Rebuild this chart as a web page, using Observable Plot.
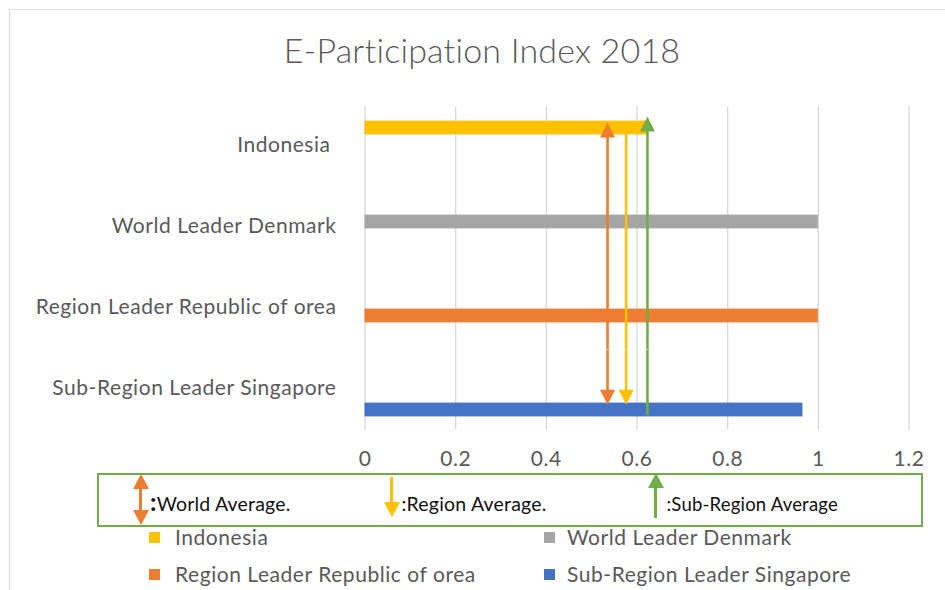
<!DOCTYPE html>
<html>
<head>
<meta charset="utf-8">
<script src="https://cdn.jsdelivr.net/npm/d3@7"></script>
<script src="https://cdn.jsdelivr.net/npm/@observablehq/plot@0.6"></script>
<style>
  html, body { margin: 0; padding: 0; background: #fff; width: 945px; height: 590px; overflow: hidden; position: relative; font-family: Lato, "Open Sans", sans-serif; }
  #border { position: absolute; left: 9px; top: 9px; width: 1000px; height: 700px; border: 1px solid #d9d9d9; }
  #title { position: absolute; left: 0; width: 964px; top: 28px; text-align: center; font-size: 34px; letter-spacing: 0.2px; font-weight: 300; color: #595959; line-height: 44px; }
  #chart { position: absolute; left: 0; top: 0; }
  #box { position: absolute; left: 97px; top: 473px; width: 826px; height: 54px; box-sizing: border-box; border: 2px solid #70ad47; }
  .note { position: absolute; font-size: 19.5px; letter-spacing: 0.2px; color: #111; white-space: nowrap; line-height: 22px; }
  .note span { line-height: 0; }
  .shaft { position: absolute; width: 3px; }
  .head-up, .head-down { position: absolute; width: 0; height: 0; border-left: 8px solid transparent; border-right: 8px solid transparent; }
  .leg-sw { position: absolute; width: 11px; height: 11px; }
  .leg-tx { position: absolute; font-size: 21px; letter-spacing: 0.55px; color: #595959; white-space: nowrap; line-height: 24px; }
</style>
</head>
<body>
<div id="border"></div>
<div id="title">E-Participation Index 2018</div>
<div id="chart"></div>
<div id="box"></div>
<div id="notes"></div>
<div id="legend"></div>
<script>
// ---------- data ----------
const categories = ["Indonesia", "World Leader Denmark", "Region Leader Republic of orea", "Sub-Region Leader Singapore"];
const categoryLabels = ["Indonesia\u00a0", "World Leader Denmark", "Region Leader Republic of orea", "Sub-Region Leader Singapore"];
const seriesNames = ["Indonesia", "World Leader Denmark", "Region Leader Republic of orea", "Sub-Region Leader Singapore"];
const seriesValues = [0.623, 1.0, 1.0, 0.966];
const averageNames = ["World Average", "Region Average", "Sub-Region Average"];
const averageLabels = ["World Average.", ":Region Average.", ":Sub-Region Average"];
const averageValues = [0.535, 0.576, 0.623];
const xTicks = [0, 0.2, 0.4, 0.6, 0.8, 1, 1.2];
const xTickLabels = ["0", "0.2", "0.4", "0.6", "0.8", "1", "1.2"];

// ---------- styles ----------
const seriesColors = ["#ffc000", "#a5a5a5", "#ed7d31", "#4472c4"];
const averageColors = ["#ed7d31", "#ffc000", "#70ad47"];
const arrowHasUp = [true, false, true];
const arrowHasDown = [true, true, false];
const arrowUpDy = [-5.6, 0, -11.6];
const arrowBottomInset = [16, 16, 1];

const bars = categories.map((c, i) => ({category: c, series: seriesNames[i], value: seriesValues[i]}));
const avgs = averageNames.map((n, i) => ({name: n, value: averageValues[i], i}));

// arrow-head symbols with the tip at the anchor point
const tipUp = {draw(ctx, size) { const h = 3 * Math.sqrt(size / Math.PI), w = h / 2; ctx.moveTo(0, 0); ctx.lineTo(w, h); ctx.lineTo(-w, h); ctx.closePath(); }};
const tipDown = {draw(ctx, size) { const h = 3 * Math.sqrt(size / Math.PI), w = h / 2; ctx.moveTo(0, 0); ctx.lineTo(w, -h); ctx.lineTo(-w, -h); ctx.closePath(); }};

const firstCat = categories[0], lastCat = categories[categories.length - 1];
const firstSer = seriesNames[0], lastSer = seriesNames[seriesNames.length - 1];
const midCats = categories.slice(1, -1);

const arrowMarks = [];
avgs.forEach(a => {
  const col = averageColors[a.i];
  arrowMarks.push(
    Plot.ruleX([a], {x: "value", fy: () => firstCat, y1: () => firstSer, y2: () => lastSer, insetTop: 8, insetBottom: -14.5, stroke: col, strokeWidth: 2.6}),
    Plot.ruleX(midCats.map(c => ({...a, category: c})), {x: "value", fy: "category", stroke: col, strokeWidth: 2.6}),
    Plot.ruleX([a], {x: "value", fy: () => lastCat, y1: () => firstSer, y2: () => lastSer, insetTop: -14.5, insetBottom: arrowBottomInset[a.i], stroke: col, strokeWidth: 2.6})
  );
  if (arrowHasUp[a.i]) arrowMarks.push(Plot.dot([a], {x: "value", y: () => firstSer, fy: () => firstCat, symbol: tipUp, r: 5, fill: col, stroke: "none", dy: arrowUpDy[a.i]}));
  if (arrowHasDown[a.i]) arrowMarks.push(Plot.dot([a], {x: "value", y: () => lastSer, fy: () => lastCat, symbol: tipDown, r: 5, fill: col, stroke: "none", dy: -5.3}));
});

const chart = Plot.plot({
  width: 945,
  height: 475,
  marginLeft: 364.5,
  marginRight: 36.5,
  marginTop: 105,
  marginBottom: 45,
  style: {fontFamily: "Lato, 'Open Sans', sans-serif", fontSize: "21px", letterSpacing: "0.55px", color: "#595959", background: "transparent", overflow: "visible"},
  x: {domain: [0, 1.2]},
  y: {domain: seriesNames, paddingInner: 0, paddingOuter: 1.05, axis: null},
  fy: {domain: categories, padding: 0, label: null},
  color: {domain: seriesNames, range: seriesColors},
  marks: [
    Plot.gridX(xTicks, {stroke: "#d9d9d9", strokeOpacity: 1, strokeWidth: 1.4}),
    Plot.barX(bars, {x: "value", y: "series", fy: "category", fill: "series", insetTop: -0.4, insetBottom: -0.4}),
    ...arrowMarks,
    Plot.axisX(xTicks, {tickSize: 0, tickPadding: 21, label: null, tickFormat: d => xTickLabels[xTicks.indexOf(d)]}),
    Plot.axisFy({anchor: "left", tickSize: 0, tickPadding: 28.5, dy: -1.5, label: null, tickFormat: d => categoryLabels[categories.indexOf(d)]})
  ]
});
document.getElementById("chart").appendChild(chart);

// ---------- annotation box (arrow key) ----------
const notes = document.getElementById("notes");
function el(cls, css, html) { const d = document.createElement("div"); d.className = cls; Object.assign(d.style, css); if (html) d.innerHTML = html; notes.appendChild(d); return d; }
// world average: double arrow
el("head-up", {left: (140.7 - 8) + "px", top: "474px", borderBottom: "15px solid " + averageColors[0]});
el("shaft", {left: (140.7 - 1.5) + "px", top: "488px", height: "24px", background: averageColors[0]});
el("head-down", {left: (140.7 - 8) + "px", top: "510px", borderTop: "15px solid " + averageColors[0]});
el("note", {left: "150px", top: "493px"}, '<span style="font-size:25px;font-weight:700">:</span>' + averageLabels[0]);
// region average: down arrow
el("shaft", {left: (391.7 - 1.5) + "px", top: "477px", height: "26px", background: averageColors[1]});
el("head-down", {left: (391.7 - 8) + "px", top: "502px", borderTop: "15px solid " + averageColors[1]});
el("note", {left: "401.5px", top: "493px"}, averageLabels[1]);
// sub-region average: up arrow
el("head-up", {left: (655.7 - 8) + "px", top: "473px", borderBottom: "15px solid " + averageColors[2]});
el("shaft", {left: (655.7 - 1.5) + "px", top: "487px", height: "31px", background: averageColors[2]});
el("note", {left: "666.5px", top: "493px", fontSize: "18.5px"}, averageLabels[2]);

// ---------- legend ----------
const legend = document.getElementById("legend");
const legPos = [[149, 537], [544, 537], [149, 574], [544, 574]];
const legText = [175, 567, 175, 567];
seriesNames.forEach((s, i) => {
  const sw = document.createElement("div"); sw.className = "leg-sw";
  Object.assign(sw.style, {left: legPos[i][0] + "px", top: (legPos[i][1] - 5.5) + "px", background: seriesColors[i]});
  legend.appendChild(sw);
  const tx = document.createElement("div"); tx.className = "leg-tx"; tx.textContent = s;
  Object.assign(tx.style, {left: legText[i] + "px", top: (legPos[i][1] - 12) + "px"});
  legend.appendChild(tx);
});
</script>
</body>
</html>
